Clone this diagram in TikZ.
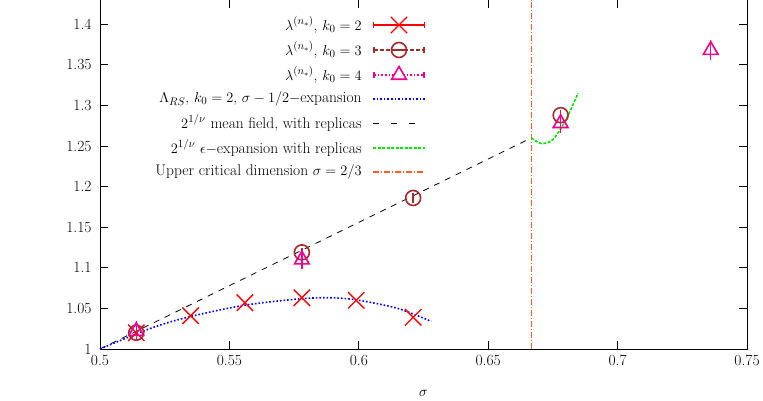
\documentclass[tikz,border=0pt]{standalone}
\usepackage{amsmath,amssymb}
\usetikzlibrary{arrows.meta,positioning,shapes.geometric,shapes.misc}
\definecolor{kbrown}{RGB}{165,42,42}
\definecolor{korange}{RGB}{255,96,32}
\definecolor{kgreen}{RGB}{0,230,0}
\tikzset{
    every picture/.style={line width=0.8pt},
    every node/.style={font=\fontsize{15.5}{18}\selectfont},
    crossmark/.style={cross out,draw=red,line width=1.4pt,minimum size=15pt,inner sep=0pt},
    circmark/.style={circle,draw=kbrown,line width=1.6pt,minimum size=15pt,inner sep=0pt},
    trimark/.style={regular polygon,regular polygon sides=3,draw=magenta,line width=1.6pt,minimum size=17pt,inner sep=0pt},
    legtext/.style={anchor=east,inner sep=0pt},
    ticklab/.style={inner sep=2pt}
}
\begin{document}
\begin{tikzpicture}[x=1pt,y=1pt]
    \useasboundingbox (0,0) rectangle (763,400);

    \begin{scope}[shift={(-1194pt,-761pt)},x=2588pt,y=812pt]
        % frame and ticks
        \draw (0.5,1) rectangle (0.75,1.43);
        \foreach \s in {0.5,0.55,0.6,0.65,0.7,0.75} {
            \draw (\s,1) -- ++(0,8pt) (\s,1.43) -- ++(0,-8pt);
            \node[ticklab,below=4pt] (xt\s) at (\s,1) {\s};
        }
        \foreach \v in {1,1.05,1.1,1.15,1.2,1.25,1.3,1.35,1.4} {
            \draw (0.5,\v) -- ++(8pt,0) (0.75,\v) -- ++(-8pt,0);
            \node[ticklab,left=6pt] (yt\v) at (0.5,\v) {\v};
        }
        \node (xlab) at (0.625,0.945) {$\sigma$};
        \node[rotate=90] (ylab) at (0.4315,1.185) {$2^{1/\nu}$};

        % curves
        \draw[korange,line width=1.4pt,dash pattern=on 6pt off 2pt on 1pt off 2pt] (0.66667,1) -- (0.66667,1.43);
        \draw[black,dash pattern=on 6pt off 6pt] (0.5,1) -- (0.66667,1.26);
        \draw[blue,line width=1.6pt,dotted] plot[smooth] coordinates
            {(0.5,1) (0.52,1.026) (0.535,1.04) (0.556,1.054) (0.578,1.062) (0.59,1.063) (0.6,1.06) (0.615,1.05) (0.628,1.034)};
        \draw[kgreen,line width=1.6pt,dash pattern=on 3pt off 1.5pt] plot[smooth] coordinates
            {(0.66667,1.26) (0.6705,1.253) (0.675,1.258) (0.68,1.282) (0.6847,1.315)};

        % data points
        \foreach \s/\v [count=\i] in {0.514/1.02,0.535/1.041,0.556/1.057,0.578/1.063,0.599/1.06,0.621/1.039}
            \node[crossmark] (a\i) at (\s,\v) {};
        \foreach \s/\v [count=\i] in {0.514/1.02,0.578/1.119,0.621/1.186,0.678/1.288} {
            \node[circmark] (b\i) at (\s,\v) {};
            \draw[kbrown,line width=1.4pt] (\s,\v-0.006) -- (\s,\v+0.006);
        }
        \foreach \s/\v [count=\i] in {0.514/1.022,0.578/1.11,0.678/1.278,0.736/1.368} {
            \node[trimark] (c\i) at (\s,\v) {};
            \draw[magenta,line width=1.4pt] (\s,\v-0.012) -- (\s,\v+0.012);
        }
    \end{scope}

    % legend
    \node[legtext] (l1) at (362,375) {$\lambda^{(n_*)}$, $k_0=2$};
    \node[legtext] (l2) at (362,350) {$\lambda^{(n_*)}$, $k_0=3$};
    \node[legtext] (l3) at (362,325) {$\lambda^{(n_*)}$, $k_0=4$};
    \node[legtext] (l4) at (362,301) {$\Lambda_{RS}$, $k_0=2$, $\sigma-1/2-$expansion};
    \node[legtext] (l5) at (362,277) {$2^{1/\nu}$ mean field, with replicas};
    \node[legtext] (l6) at (362,252) {$2^{1/\nu}$ $\epsilon-$expansion with replicas};
    \node[legtext] (l7) at (362,228) {Upper critical dimension $\sigma=2/3$};

    \draw[red,line width=1.4pt,{Bar[width=6pt]}-{Bar[width=6pt]}] ([xshift=11pt]l1.east) -- ++(52pt,0);
    \node[crossmark] (m1) at ([xshift=37pt]l1.east) {};
    \draw[kbrown,line width=1.6pt,dash pattern=on 4pt off 2pt,{Bar[width=6pt]}-{Bar[width=6pt]}] ([xshift=11pt]l2.east) -- ++(52pt,0);
    \node[circmark,fill=white] (m2) at ([xshift=37pt]l2.east) {};
    \draw[kbrown,line width=1.6pt] ([xshift=30pt]l2.east) -- ([xshift=44pt]l2.east);
    \draw[magenta,line width=1.6pt,dotted,{Bar[width=6pt]}-{Bar[width=6pt]}] ([xshift=11pt]l3.east) -- ++(52pt,0);
    \node[trimark,fill=white] (m3) at ([xshift=37pt]l3.east) {};
    \draw[blue,line width=1.6pt,dotted] ([xshift=11pt]l4.east) -- ++(52pt,0);
    \draw[black,dash pattern=on 6pt off 12pt] ([xshift=11pt]l5.east) -- ++(52pt,0);
    \draw[kgreen,line width=1.6pt,dash pattern=on 3pt off 1.5pt] ([xshift=11pt]l6.east) -- ++(52pt,0);
    \draw[korange,line width=1.4pt,dash pattern=on 6pt off 2pt on 1pt off 2pt] ([xshift=11pt]l7.east) -- ++(52pt,0);
\end{tikzpicture}
\end{document}
